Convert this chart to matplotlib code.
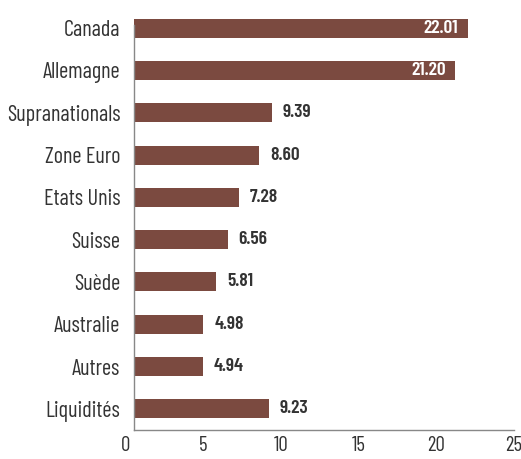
import matplotlib
matplotlib.use('Agg')
import matplotlib.pyplot as plt
from matplotlib import font_manager

# Data
categories = ['Canada', 'Allemagne', 'Supranationals', 'Zone Euro', 'Etats Unis',
              'Suisse', 'Suède', 'Australie', 'Autres', 'Liquidités']
values = [22.01, 21.20, 9.39, 8.60, 7.28, 6.56, 5.81, 4.98, 4.94, 9.23]
xticks = [0, 5, 10, 15, 20, 25]

names = {f.name for f in font_manager.fontManager.ttflist}
family = 'Barlow Condensed' if 'Barlow Condensed' in names else 'DejaVu Sans'
plt.rcParams['font.family'] = [family, 'DejaVu Sans']

BAR = '#7B4A40'
TXT = '#333333'
BASE = 0.52  # left axis line sits a little to the right of zero

fig = plt.figure(figsize=(5.21, 4.59), dpi=100)
ax = fig.add_axes([126 / 521, 29 / 459, 388 / 521, 423 / 459])

# spines first: moving a spine resets the tick styling
for s in ['top', 'right']:
    ax.spines[s].set_visible(False)
ax.spines['left'].set_position(('data', BASE))
for s in ['left', 'bottom']:
    ax.spines[s].set_color('#888888')
    ax.spines[s].set_linewidth(1)

ypos = list(range(len(categories)))
ax.barh(ypos, [v - BASE for v in values], left=BASE, height=0.45, color=BAR)

for y, v in zip(ypos, values):
    if v > 15:
        ax.text(v - 0.6, y, f'{v:.2f}', ha='right', va='center', color='white',
                fontsize=14, fontweight='semibold')
    else:
        ax.text(v + 0.7, y, f'{v:.2f}', ha='left', va='center', color=TXT,
                fontsize=14, fontweight='semibold')

ax.set_yticks(ypos)
ax.set_yticklabels(categories, fontsize=16, color=TXT)
ax.set_xticks(xticks)
ax.set_xticklabels([str(t) for t in xticks], fontsize=15, color=TXT)
ax.set_xlim(0, 25)
ax.set_ylim(9.5, -0.5)
ax.spines['left'].set_bounds(9.5, -0.07)
ax.spines['bottom'].set_bounds(BASE, 25)
ax.tick_params(axis='y', length=0, pad=10)
ax.tick_params(axis='x', length=0, pad=4)

fig.savefig('out.png', dpi=100)
